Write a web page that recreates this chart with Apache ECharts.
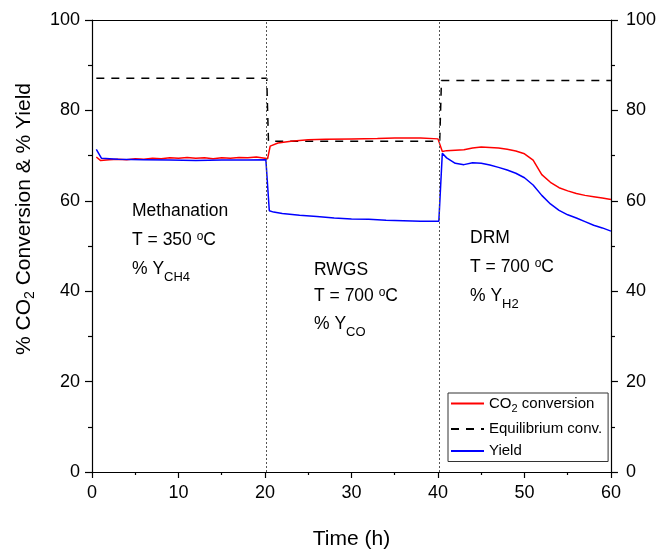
<!DOCTYPE html>
<html>
<head>
<meta charset="utf-8">
<script src="https://cdn.jsdelivr.net/npm/echarts@6/dist/echarts.min.js"></script>
<style>
  html, body { margin: 0; padding: 0; background: #fff; }
  #chart { width: 659px; height: 555px; }
</style>
</head>
<body>
<div id="chart"></div>
<script>
// CO2 conversion (red)
const convTime = [0.5, 1.0, 2, 3, 4, 5, 6, 7, 8, 9, 10, 11, 12, 13, 14, 15, 16, 17, 18, 19, 20, 20.3,
  20.6, 21.5, 23, 25, 27, 30, 33, 35, 38, 40,
  40.5, 41, 42, 43, 44, 45, 46, 47, 48, 49, 50, 51, 52, 53, 54, 55, 56, 57, 58, 59, 60];
const convValue = [69.7, 68.9, 69.1, 69.2, 69.1, 69.3, 69.2, 69.4, 69.3, 69.5, 69.4, 69.6, 69.4, 69.5, 69.3, 69.5, 69.4, 69.6, 69.5, 69.7, 69.4, 69.3,
  72.1, 72.8, 73.2, 73.5, 73.6, 73.7, 73.8, 73.9, 73.9, 73.7,
  70.9, 71.1, 71.2, 71.3, 71.7, 71.9, 71.8, 71.7, 71.4, 71.0, 70.4, 69.0, 65.8, 64.1, 62.9, 62.2, 61.6, 61.2, 60.9, 60.6, 60.3];

// equilibrium conversion (dashed)
const eqTime = [0.5, 20.2, 20.4, 40.2, 40.4, 60];
const eqValue = [87.1, 87.1, 73.2, 73.2, 86.6, 86.6];

// yield (blue)
const yieldTime = [0.5, 1.1, 3, 6, 9, 12, 15, 18, 20.1,
  20.5, 21, 22, 24, 26, 28, 30, 32, 34, 36, 38, 40.1,
  40.5, 41, 42, 43, 44, 45, 46, 47, 48, 49, 50, 51, 52, 53, 54, 55, 56, 57, 58, 59, 60];
const yieldValue = [71.4, 69.4, 69.2, 69.1, 69.0, 68.9, 69.0, 69.0, 69.1,
  57.8, 57.5, 57.2, 56.8, 56.5, 56.2, 56.0, 55.9, 55.7, 55.6, 55.5, 55.5,
  70.5, 69.5, 68.3, 68.0, 68.4, 68.3, 67.9, 67.4, 66.8, 66.1, 65.1, 63.5, 61.2, 59.3, 57.9, 56.9, 56.2, 55.4, 54.6, 54.0, 53.3];

// stage boundaries (h)
const phaseBounds = [20.2, 40.2];

const FONT = 'Liberation Sans, Arial, sans-serif';

function pairs(xs, ys) {
  return xs.map((x, i) => [x, ys[i]]);
}

const axisLineStyle = { color: '#000', width: 1.2 };

// rich styles for the stage annotations
const noteRich = {
  m: { fontFamily: FONT, fontSize: 17.5, lineHeight: 20, verticalAlign: 'top', color: '#000' },
  sub: { fontFamily: FONT, fontSize: 13, lineHeight: 34, verticalAlign: 'middle', color: '#000' },
  sup: { fontFamily: FONT, fontSize: 12, lineHeight: 4, verticalAlign: 'top', color: '#000' }
};

function note(x, yCenter, text) {
  return {
    type: 'text', x: x, y: yCenter - 10, silent: true,
    style: { text: text, rich: noteRich, verticalAlign: 'top', align: 'left' }
  };
}

const chart = echarts.init(document.getElementById('chart'));

chart.setOption({
  animation: false,
  backgroundColor: '#fff',
  grid: { left: 92, right: 45, top: 20, bottom: 71 },
  xAxis: [{
    type: 'value', min: 0, max: 60, interval: 10, position: 'bottom',
    axisLine: { show: true, onZero: false, lineStyle: axisLineStyle },
    axisTick: { show: true, length: 6, lineStyle: axisLineStyle },
    minorTick: { show: true, splitNumber: 2, length: 3, lineStyle: axisLineStyle },
    axisLabel: { fontFamily: FONT, fontSize: 18, color: '#000', margin: 12 },
    splitLine: { show: false },
    name: 'Time (h)', nameLocation: 'middle', nameGap: 57,
    nameTextStyle: { fontFamily: FONT, fontSize: 21, color: '#000' }
  }, {
    type: 'value', min: 0, max: 60, position: 'top',
    axisLine: { show: true, onZero: false, lineStyle: axisLineStyle },
    axisTick: { show: false }, axisLabel: { show: false }, splitLine: { show: false }
  }],
  yAxis: [{
    type: 'value', min: 0, max: 100, interval: 20, position: 'left',
    axisLine: { show: true, onZero: false, lineStyle: axisLineStyle },
    axisTick: { show: true, length: 7, lineStyle: axisLineStyle },
    minorTick: { show: true, splitNumber: 2, length: 4, lineStyle: axisLineStyle },
    axisLabel: { fontFamily: FONT, fontSize: 18, color: '#000', margin: 12 },
    splitLine: { show: false }
  }, {
    type: 'value', min: 0, max: 100, interval: 20, position: 'right',
    axisLine: { show: true, onZero: false, lineStyle: axisLineStyle },
    axisTick: { show: true, length: 7, lineStyle: axisLineStyle },
    minorTick: { show: true, splitNumber: 2, length: 4, lineStyle: axisLineStyle },
    axisLabel: { fontFamily: FONT, fontSize: 18, color: '#000', margin: 15 },
    splitLine: { show: false }
  }],
  legend: {
    left: 448, top: 393, orient: 'vertical',
    itemWidth: 33, itemHeight: 18, itemGap: 7,
    padding: [3, 6, 3, 2],
    borderColor: '#333', borderWidth: 1, borderRadius: 0,
    selectedMode: false,
    itemStyle: { opacity: 0 },
    formatter: function (name) {
      if (name === 'CO2 conversion') return '{m|CO}{s|2}{m| conversion}';
      return '{m|' + name + '}';
    },
    textStyle: {
      rich: {
        m: { fontFamily: FONT, fontSize: 15, lineHeight: 22, verticalAlign: 'middle', color: '#000' },
        s: { fontFamily: FONT, fontSize: 11, lineHeight: 12, verticalAlign: 'bottom', color: '#000' }
      }
    },
    data: ['CO2 conversion', 'Equilibrium conv.', 'Yield']
  },
  series: [{
    name: 'CO2 conversion', type: 'line', symbol: 'none',
    lineStyle: { color: '#ff0000', width: 1.5 }, itemStyle: { color: '#ff0000' },
    data: pairs(convTime, convValue), z: 3
  }, {
    name: 'Equilibrium conv.', type: 'line', symbol: 'none',
    lineStyle: { color: '#000', width: 1.5, type: [8, 7] }, itemStyle: { color: '#000' },
    data: pairs(eqTime, eqValue), z: 2,
    markLine: {
      silent: true, symbol: ['none', 'none'], label: { show: false },
      lineStyle: { color: '#555', width: 1, type: [2, 2] },
      data: phaseBounds.map(v => ({ xAxis: v }))
    }
  }, {
    name: 'Yield', type: 'line', symbol: 'none',
    lineStyle: { color: '#0000ff', width: 1.5 }, itemStyle: { color: '#0000ff' },
    data: pairs(yieldTime, yieldValue), z: 4
  }],
  graphic: [
    {
      type: 'text', x: 24, y: 219, rotation: Math.PI / 2, silent: true,
      style: {
        text: '{m|% CO}{s|2}{m| Conversion & % Yield}',
        align: 'center', verticalAlign: 'middle',
        rich: {
          m: { fontFamily: FONT, fontSize: 21, lineHeight: 26, verticalAlign: 'middle', color: '#000' },
          s: { fontFamily: FONT, fontSize: 14, lineHeight: 12, verticalAlign: 'bottom', color: '#000' }
        }
      }
    },
    note(132, 212, '{m|Methanation}'),
    note(132, 241, '{m|T = 350 }{sup|o}{m|C}'),
    note(132, 270, '{m|% Y}{sub|CH4}'),
    note(314, 271, '{m|RWGS}'),
    note(314, 297, '{m|T = 700 }{sup|o}{m|C}'),
    note(314, 325, '{m|% Y}{sub|CO}'),
    note(470, 239, '{m|DRM}'),
    note(470, 268, '{m|T = 700 }{sup|o}{m|C}'),
    note(470, 297, '{m|% Y}{sub|H2}')
  ]
});
</script>
</body>
</html>
